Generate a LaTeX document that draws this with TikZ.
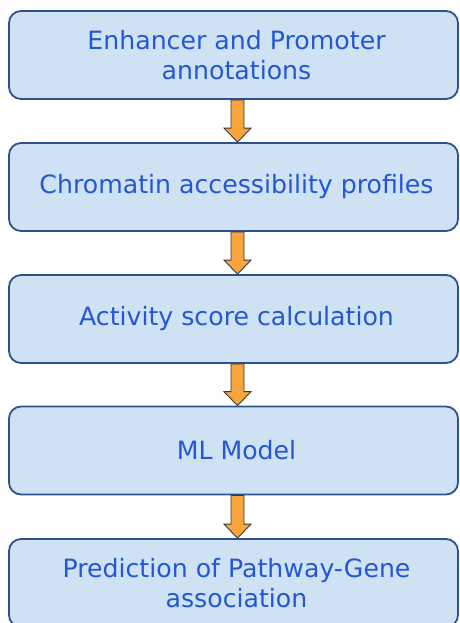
\documentclass[tikz,border=0pt]{standalone}
\usepackage{fontspec}
\setmainfont{DejaVu Sans}
\usetikzlibrary{calc}
\definecolor{boxfill}{HTML}{CFE2F3}
\definecolor{boxline}{HTML}{2F528F}
\definecolor{boxtext}{HTML}{2357D4}
\definecolor{arrowfill}{HTML}{F8A33C}
\definecolor{arrowline}{HTML}{3A3A3A}
\tikzset{
  stepbox/.style={draw=boxline, line width=1.8pt, fill=boxfill, rounded corners=12pt,
    minimum width=449pt, minimum height=88pt, inner sep=0pt},
  steptext/.style={align=center, text=boxtext, inner sep=0pt,
    font=\fontsize{25.2}{30}\selectfont},
  flowarrow/.style={draw=arrowline, line width=0.9pt, fill=arrowfill, line join=miter}
}
% one step: a rounded box plus its caption, set a little right of centre
\newcommand{\flowstep}[3]{%
  \node[stepbox] (#1) at (233.5,#2) {};
  \node[steptext] (#1-text) at ($(#1.center)+(3pt,0)$) {#3};}
\newcommand{\flowarrow}[2]{%
  \draw[flowarrow]
    ($(#1.south)+(-2.5pt,0)$) -- ($(#1.south)+(10.5pt,0)$)
    -- ($(#2.north)+(10.5pt,14pt)$) -- ($(#2.north)+(17.5pt,14pt)$)
    -- ($(#2.north)+(4pt,0)$) -- ($(#2.north)+(-9.5pt,14pt)$)
    -- ($(#2.north)+(-2.5pt,14pt)$) -- cycle;}
\begin{document}
\begin{tikzpicture}[x=1pt,y=1pt]
  \useasboundingbox (0,0) rectangle (459,-623);
  \begin{scope}
    \clip (0,0) rectangle (459,-623);
    \flowstep{s1}{-55}{Enhancer and Promoter\\annotations}
    \flowstep{s2}{-187}{Chromatin accessibility profiles}
    \flowstep{s3}{-319}{Activity score calculation}
    \flowstep{s4}{-450.5}{ML Model}
    \flowstep{s5}{-583}{Prediction of Pathway-Gene\\association}
    \flowarrow{s1}{s2}
    \flowarrow{s2}{s3}
    \flowarrow{s3}{s4}
    \flowarrow{s4}{s5}
  \end{scope}
\end{tikzpicture}
\end{document}
